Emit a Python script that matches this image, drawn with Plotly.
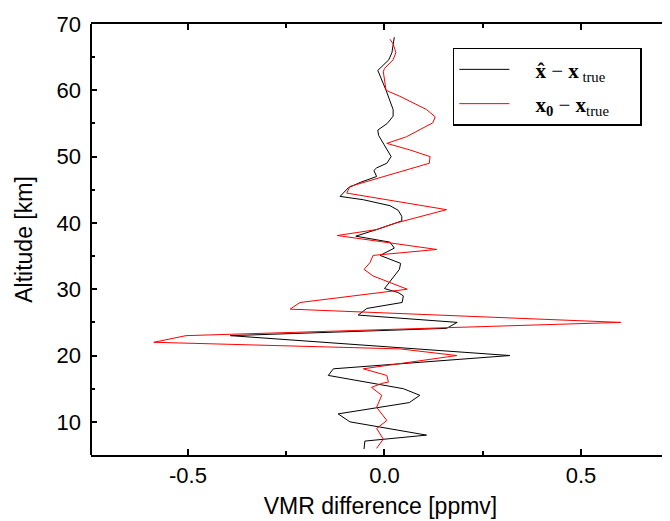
import plotly.graph_objects as go

# Retrieved minus true (black)
alt_ret = [68.0, 65.7, 64.6, 63.0, 60.0, 57.1, 56.1, 55.0, 54.0, 53.2, 51.8, 50.0,
           49.0, 48.3, 47.9, 47.0, 46.1, 45.3, 44.0, 43.5, 42.6, 41.9, 41.0, 40.3,
           39.0, 38.0, 37.1, 36.2, 35.1, 33.9, 33.0, 31.6, 30.1, 29.5, 29.0, 28.0,
           27.1, 26.1, 25.0, 24.1, 23.0, 20.0, 18.0, 17.0, 15.0, 14.0, 12.9, 11.2,
           10.0, 8.0, 7.1, 5.9]
diff_ret = [0.025, 0.019, 0.011, -0.017, 0.004, 0.022, 0.022, 0.007, -0.017, -0.015, -0.001, 0.017,
            0.006, -0.020, -0.027, -0.020, -0.062, -0.092, -0.113, -0.054, 0.014, 0.035, 0.044, 0.044,
            -0.020, -0.073, 0.014, 0.025, -0.011, 0.041, 0.038, 0.019, 0.000, 0.035, 0.048, 0.045,
            -0.045, -0.067, 0.185, 0.158, -0.392, 0.319, -0.130, -0.143, 0.048, 0.090, 0.063, -0.118,
            -0.088, 0.107, -0.050, -0.052]

# A priori minus true (red)
alt_ap = [67.7, 67.0, 65.7, 64.6, 63.3, 62.8, 60.0, 59.1, 57.1, 56.0, 55.1, 53.0,
          52.0, 51.0, 50.0, 49.0, 45.5, 44.5, 42.0, 40.0, 39.0, 38.1, 36.0, 35.1,
          34.0, 33.0, 32.0, 30.0, 28.0, 27.0, 25.0, 23.0, 22.0, 21.0, 20.0, 18.0,
          17.0, 16.0, 15.8, 15.2, 14.0, 12.2, 10.2, 9.0, 7.4, 6.0]
diff_ap = [0.014, 0.022, 0.029, 0.022, 0.000, -0.003, 0.004, 0.039, 0.107, 0.129, 0.123, 0.056,
           0.006, 0.065, 0.116, 0.114, -0.088, -0.096, 0.158, 0.030, -0.020, -0.120, 0.133, -0.029,
           -0.037, -0.052, -0.029, 0.058, -0.215, -0.240, 0.601, -0.505, -0.587, 0.040, 0.184, -0.054,
           0.006, 0.010, -0.007, -0.033, -0.007, -0.020, 0.006, -0.020, -0.003, -0.020]

x_ticks = [-0.5, 0.0, 0.5]
x_ticklabels = ["-0.5", "0.0", "0.5"]
y_ticks = [10, 20, 30, 40, 50, 60, 70]

pad_l = "\u00a0" * 4
pad_r = "\u00a0" * 5

fig = go.Figure()
fig.add_trace(go.Scatter(x=diff_ret, y=alt_ret, mode="lines",
                         line=dict(color="black", width=1), legendgroup="a",
                         name=pad_l + "<b>x̂</b> − <b>x</b><sub> true</sub>" + pad_r))
fig.add_trace(go.Scatter(x=diff_ap, y=alt_ap, mode="lines",
                         line=dict(color="#ff0000", width=1), legendgroup="b",
                         name=pad_l + "<b>x<sub>0</sub></b> − <b>x</b><sub>true</sub>" + pad_r))

tick_font = dict(family="Liberation Sans, Arial, sans-serif", size=22, color="black")
title_font = dict(family="Liberation Sans, Arial, sans-serif", size=23, color="black")

# page body has an 8px margin: compensate so the plot area lands where the reference has it
fig.update_layout(
    width=662, height=513,
    margin=dict(l=83, r=0, t=16, b=66, autoexpand=False),
    paper_bgcolor="white", plot_bgcolor="white",
    showlegend=True,
    legend=dict(x=0.625, y=0.945, xanchor="left", yanchor="top",
                bgcolor="white", bordercolor="black", borderwidth=1.5,
                font=dict(family="Liberation Serif, Times New Roman, serif", size=21, color="black"),
                itemwidth=50, traceorder="grouped", tracegroupgap=4),
    xaxis=dict(range=[-0.7468, 0.7265], tickvals=x_ticks, ticktext=x_ticklabels,
               ticks="inside", ticklen=6, tickwidth=1.5, tickcolor="black",
               showline=True, linecolor="black", linewidth=2, mirror="ticks",
               showgrid=False, zeroline=False,
               minor=dict(dtick=0.25, tick0=0, ticks="inside", ticklen=4, tickwidth=1.5, tickcolor="black", showgrid=False),
               tickfont=tick_font,
               title=dict(text="VMR difference [ppmv]", font=title_font, standoff=10),
               automargin=False),
    yaxis=dict(range=[5, 70], tickvals=y_ticks,
               ticks="inside", ticklen=6, tickwidth=1.5, tickcolor="black",
               showline=False, mirror="ticks",
               showgrid=False, zeroline=False,
               minor=dict(dtick=5, tick0=0, ticks="inside", ticklen=4, tickwidth=1.5, tickcolor="black", showgrid=False),
               tickfont=tick_font, ticklabelstandoff=9,
               title=dict(text="Altitude [km]", font=title_font, standoff=17),
               automargin=False),
    shapes=[dict(type="line", xref="x domain", yref="y domain", x0=0, x1=0, y0=0, y1=1,
                 line=dict(color="black", width=2))],
)

fig.write_html("out.html")
